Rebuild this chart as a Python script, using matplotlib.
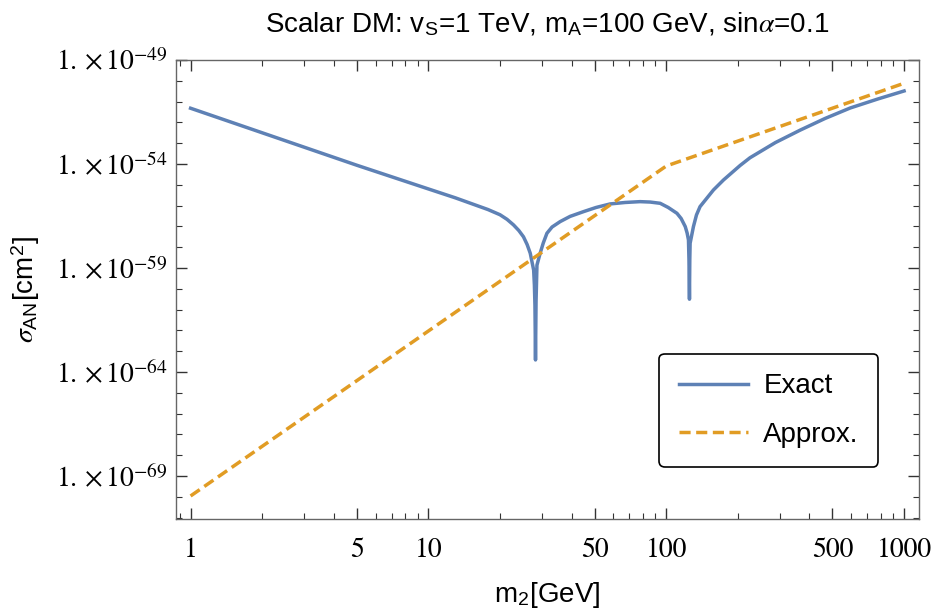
import numpy as np
import matplotlib
matplotlib.use("Agg")
import matplotlib.pyplot as plt
from matplotlib.ticker import FixedLocator, FixedFormatter, NullFormatter

plt.rcParams['font.family'] = ['Liberation Sans', 'DejaVu Sans']
plt.rcParams['mathtext.fontset'] = 'stix'

# exact curve (log10 of sigma)
m2_exact = [1.0, 2.0, 5.0, 10.0, 13.0, 16.0, 17.8, 20.0, 21.4, 22.8, 24.0, 25.1, 26.0,
            26.8, 27.7, 27.9, 28.05, 28.2, 28.35, 28.6, 29.5, 30.4, 31.5, 33.1,
            35.8, 39.4, 44.9, 50.7, 58.1, 67.2, 77.6, 85.6, 94.3, 101.9, 110.9,
            115.5, 120.2, 122.4, 124.0, 124.6, 125.2, 125.6, 126.0, 130.1, 134.0,
            138.7, 157.9, 174.0, 204.5, 225.0, 287.7, 366.0, 465.6, 593.0, 778.0, 1000.0]
log_sigma_exact = [-51.32, -52.50, -54.06, -55.20, -55.63, -56.00, -56.19, -56.44,
                   -56.66, -56.93, -57.20, -57.50, -57.87, -58.29, -59.10, -59.82,
                   -60.8, -63.42, -60.6, -58.86, -58.29, -57.80, -57.33, -57.03,
                   -56.77, -56.52, -56.29, -56.09, -55.92, -55.85, -55.81, -55.83,
                   -55.89, -56.09, -56.37, -56.62, -57.01, -57.32, -57.65, -58.6,
                   -60.50, -58.6, -57.81, -57.01, -56.45, -56.05, -55.25, -54.77,
                   -54.07, -53.70, -52.97, -52.37, -51.81, -51.31, -50.87, -50.49]
sigma_exact = [10.0**v for v in log_sigma_exact]

# approximation
m2_approx = [1.0, 100.0, 1000.0]
sigma_approx = [1.1e-70, 8.0e-55, 7.6e-51]

y_exps = [-49, -54, -59, -64, -69]
x_ticks = [1, 5, 10, 50, 100, 500, 1000]

fig = plt.figure(figsize=(9.34, 6.12), dpi=100)
ax = fig.add_axes([0.1884, 0.1525, 0.7956, 0.7495])

ax.plot(m2_exact, sigma_exact, color='#5E81B5', lw=2.5, label='Exact',
        solid_joinstyle='round')
ax.plot(m2_approx, sigma_approx, color='#E19C24', lw=2.5, dashes=(3.2, 1.6),
        label='Approx.')

ax.set_xscale('log')
ax.set_yscale('log')
ax.set_xlim(0.868, 1156)
ax.set_ylim(10**-71.05, 1e-49)

ax.xaxis.set_major_locator(FixedLocator(x_ticks))
ax.xaxis.set_major_formatter(FixedFormatter([str(t) for t in x_ticks]))
xminor = [v * d for d in [0.1, 1, 10, 100] for v in range(2, 10)]
xminor = [v for v in xminor if v not in x_ticks]
ax.xaxis.set_minor_locator(FixedLocator(xminor))
ax.xaxis.set_minor_formatter(NullFormatter())

ax.yaxis.set_major_locator(FixedLocator([10.0**e for e in y_exps]))
ax.yaxis.set_major_formatter(FixedFormatter([r'$1.\,{\times}\,10^{%d}$' % e for e in y_exps]))
ax.yaxis.set_minor_locator(FixedLocator([10.0**e for e in range(-71, -48)]))
ax.yaxis.set_minor_formatter(NullFormatter())

ax.tick_params(which='both', direction='in', top=True, right=True, color='#333333')
ax.tick_params(which='major', length=8, width=1.0)
ax.tick_params(which='minor', length=4.5, width=0.8)
ax.tick_params(axis='x', which='major', pad=14, labelsize=20)
ax.tick_params(axis='y', which='major', pad=6, labelsize=20)
for lab in ax.get_xticklabels():
    lab.set_fontfamily('STIXGeneral')
for sp in ax.spines.values():
    sp.set_color('#666666')
    sp.set_linewidth(1.0)

ax.set_title(r'Scalar DM: v$_\mathregular{S}$=1 TeV, m$_\mathregular{A}$=100 GeV, sin$\alpha$=0.1',
             fontsize=20, pad=20)
ax.set_xlabel(r'm$_\mathregular{2}$[GeV]', fontsize=20, labelpad=12)
ax.set_ylabel(r'$\sigma_\mathregular{AN}$[cm$^\mathregular{2}$]', fontsize=20, labelpad=10)

leg = ax.legend(loc='lower right', bbox_to_anchor=(0.945, 0.1127), borderaxespad=0,
                fontsize=20, frameon=True, fancybox=True, handlelength=2.5,
                borderpad=0.7, labelspacing=0.8, handletextpad=0.55)
leg.get_frame().set_edgecolor('black')
leg.get_frame().set_linewidth(1.2)
leg.get_frame().set_alpha(1)

fig.savefig('out.png', dpi=100)
